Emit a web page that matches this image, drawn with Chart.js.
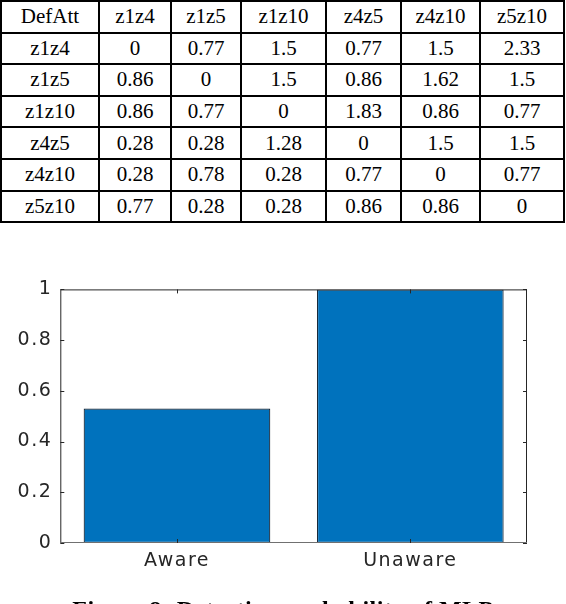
<!DOCTYPE html>
<html>
<head>
<meta charset="utf-8">
<script src="https://cdn.jsdelivr.net/npm/chart.js@4/dist/chart.umd.min.js"></script>
<style>
  html, body { margin: 0; padding: 0; background: #fff; width: 566px; height: 604px; overflow: hidden; }
  #tbl { position: absolute; left: 0; top: 0; border-collapse: collapse; table-layout: fixed;
         font-family: "Liberation Serif", "Times New Roman", serif; font-size: 21px; color: #000; }
  #tbl td { border: 2px solid #000; text-align: center; vertical-align: middle; padding: 0;
            height: 31.6px; box-sizing: border-box; line-height: 21px; }
  #wrap { position: absolute; left: 0; top: 270px; width: 566px; height: 330px; }
  #caption { position: absolute; left: 0; top: 596.5px; width: 566px; text-align: center; letter-spacing: 0.5px;
             font-family: "Liberation Serif", serif; font-weight: bold; font-size: 24px; line-height: 1; color: #000; white-space: nowrap; }
</style>
</head>
<body>
<table id="tbl"><colgroup id="cols"></colgroup><tbody id="tb"></tbody></table>
<div id="wrap"><canvas id="c"></canvas></div>
<div id="caption">Figure 8: Detection probability of MLP</div>
<script>
// ---- table data ----
const tableHeader = ['DefAtt', 'z1z4', 'z1z5', 'z1z10', 'z4z5', 'z4z10', 'z5z10'];
const tableRowLabels = ['z1z4', 'z1z5', 'z1z10', 'z4z5', 'z4z10', 'z5z10'];
const row_z1z4  = ['0', '0.77', '1.5', '0.77', '1.5', '2.33'];
const row_z1z5  = ['0.86', '0', '1.5', '0.86', '1.62', '1.5'];
const row_z1z10 = ['0.86', '0.77', '0', '1.83', '0.86', '0.77'];
const row_z4z5  = ['0.28', '0.28', '1.28', '0', '1.5', '1.5'];
const row_z4z10 = ['0.28', '0.78', '0.28', '0.77', '0', '0.77'];
const row_z5z10 = ['0.77', '0.28', '0.28', '0.86', '0.86', '0'];

// ---- chart data ----
const categories = ['Aware', 'Unaware'];
const detectionProbability = [0.53, 1.0];
const yTickLabels = ['0', '0.2', '0.4', '0.6', '0.8', '1'];

// build table
const colWidths = [98, 72, 70, 85, 75, 79, 84];
const cols = document.getElementById('cols');
colWidths.forEach(w => { const c = document.createElement('col'); c.style.width = w + 'px'; cols.appendChild(c); });
const tb = document.getElementById('tb');
function addRow(cells) {
  const tr = document.createElement('tr');
  cells.forEach(t => { const td = document.createElement('td'); td.textContent = t; tr.appendChild(td); });
  tb.appendChild(tr);
}
addRow(tableHeader);
const rows = [row_z1z4, row_z1z5, row_z1z10, row_z4z5, row_z4z10, row_z5z10];
rows.forEach((r, i) => addRow([tableRowLabels[i]].concat(r)));
document.getElementById('tbl').style.width = colWidths.reduce((a, b) => a + b, 0) + 'px';

// plugins: MATLAB-style box and inward ticks
const boxPlugin = {
  id: 'box',
  beforeDraw(chart) { chart.ctx.letterSpacing = '1.5px'; },
  afterDatasetsDraw(chart) {
    const { ctx, chartArea: a, scales } = chart;
    ctx.save();
    ctx.letterSpacing = '0px';
    ctx.lineWidth = 1;
    ctx.strokeStyle = '#262626';
    ctx.beginPath();
    ctx.moveTo(a.left + 0.5, a.bottom);
    ctx.lineTo(a.left + 0.5, a.top + 0.5);
    ctx.lineTo(a.right - 0.5, a.top + 0.5);
    ctx.lineTo(a.right - 0.5, a.bottom);
    ctx.stroke();
    ctx.strokeStyle = '#707070';
    ctx.beginPath();
    ctx.moveTo(a.left, a.bottom - 0.5);
    ctx.lineTo(a.right, a.bottom - 0.5);
    ctx.stroke();
    ctx.strokeStyle = '#262626';
    const tl = 4;
    ctx.beginPath();
    scales.y.ticks.forEach(t => {
      const y = Math.round(scales.y.getPixelForValue(t.value)) + 0.5;
      ctx.moveTo(a.left, y); ctx.lineTo(a.left + tl, y);
      ctx.moveTo(a.right, y); ctx.lineTo(a.right - tl, y);
    });
    categories.forEach((c, i) => {
      const x = Math.round(scales.x.getPixelForValue(i)) + 0.5;
      ctx.moveTo(x, a.bottom); ctx.lineTo(x, a.bottom - tl);
      ctx.moveTo(x, a.top); ctx.lineTo(x, a.top + tl);
    });
    ctx.stroke();
    ctx.restore();
  }
};

new Chart(document.getElementById('c'), {
  type: 'bar',
  data: {
    labels: categories,
    datasets: [{
      data: detectionProbability,
      backgroundColor: '#0072BD',
      borderColor: '#1a2a3a',
      borderWidth: 1.2,
      borderSkipped: false,
      barPercentage: 0.8,
      categoryPercentage: 1.0
    }]
  },
  options: {
    responsive: true,
    maintainAspectRatio: false,
    animation: false,
    devicePixelRatio: 1,
    layout: { padding: { left: 0, right: 39, top: 18.7, bottom: 17 } },
    plugins: { legend: { display: false }, tooltip: { enabled: false } },
    scales: {
      x: {
        offset: true,
        grid: { display: false, drawTicks: false },
        border: { display: false },
        ticks: { color: '#262626', font: { family: 'DejaVu Sans', size: 19 }, padding: 7, maxRotation: 0 },
        afterFit(s) { s.height = 40; }
      },
      y: {
        min: 0, max: 1,
        grid: { display: false, drawTicks: false },
        border: { display: false },
        ticks: {
          stepSize: 0.2,
          color: '#262626',
          font: { family: 'DejaVu Sans', size: 19 },
          padding: 8,
          callback: (v, i) => yTickLabels[i]
        },
        afterFit(s) { s.width = 60.3; }
      }
    }
  },
  plugins: [boxPlugin]
});
</script>
</body>
</html>
